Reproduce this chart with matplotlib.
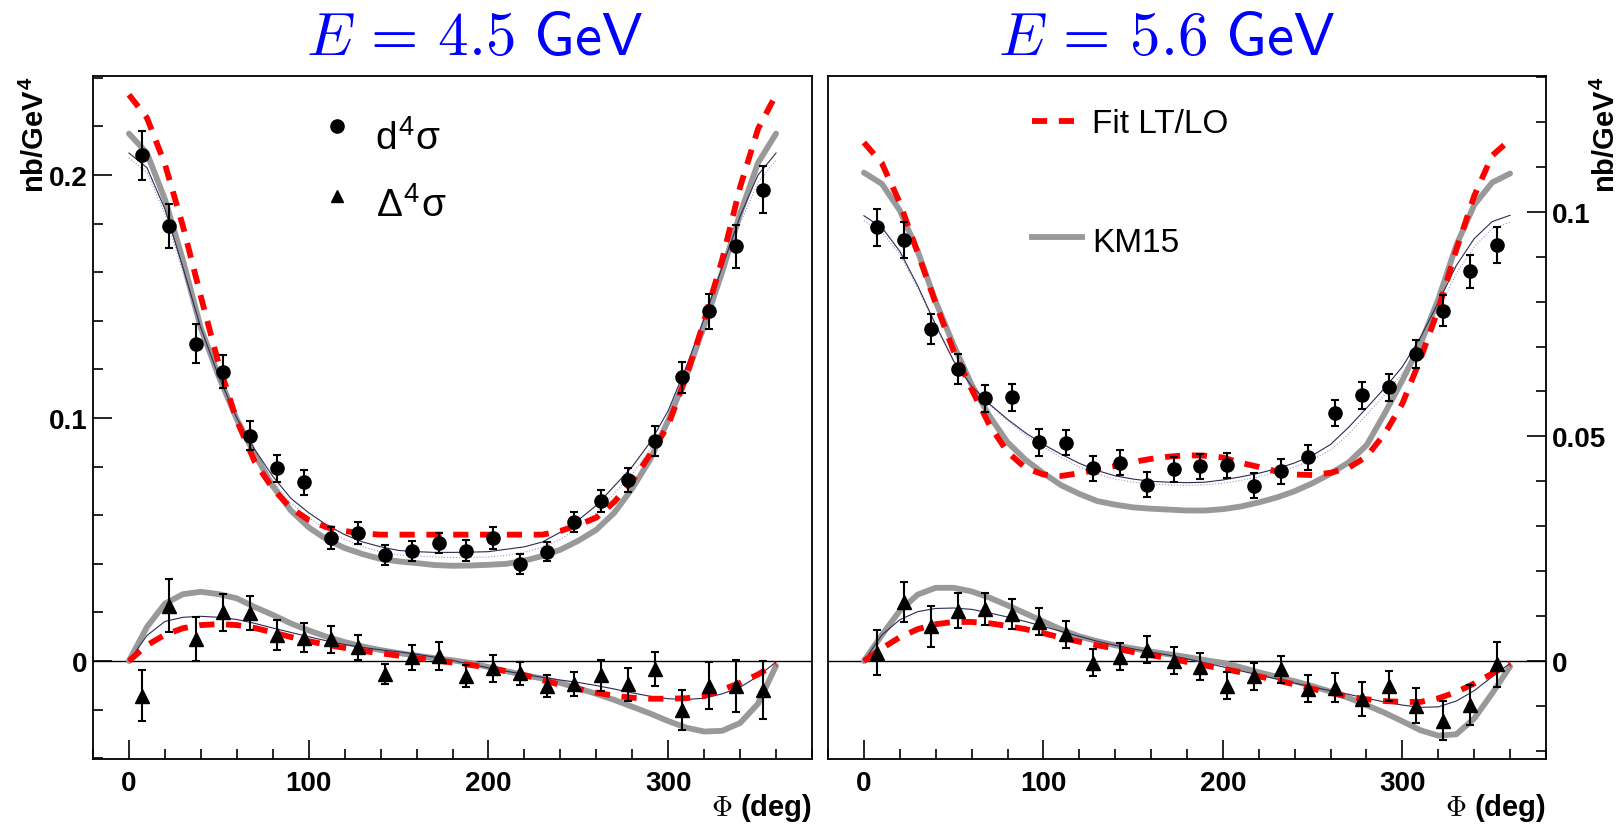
import numpy as np
import matplotlib
matplotlib.use("Agg")
import matplotlib.pyplot as plt
from matplotlib.ticker import MultipleLocator

plt.rcParams['mathtext.fontset'] = 'cm'
SANS = ['Liberation Sans', 'DejaVu Sans']

# ---------------- data ----------------
# bin centres of the measured points (deg)
phi_pts = [7.5, 22.5, 37.5, 52.5, 67.5, 82.5, 97.5, 112.5, 127.5, 142.5, 157.5, 172.5,
           187.5, 202.5, 217.5, 232.5, 247.5, 262.5, 277.5, 292.5, 307.5, 322.5, 337.5, 352.5]
# grid of the model curves (deg)
phi_curve = list(range(0, 361, 10))

# E = 4.5 GeV
xs45 = [0.208, 0.179, 0.1305, 0.119, 0.0927, 0.0793, 0.0735, 0.0505, 0.0527, 0.0436, 0.0452, 0.0486,
        0.0454, 0.0505, 0.0399, 0.045, 0.0571, 0.0658, 0.0746, 0.0905, 0.1167, 0.1439, 0.1707, 0.194]
xs45_err = [0.0100, 0.0090, 0.0080, 0.0068, 0.0060, 0.0055, 0.0050, 0.0045, 0.0045, 0.0042, 0.0040, 0.0042,
            0.0042, 0.0045, 0.0040, 0.0040, 0.0042, 0.0045, 0.0050, 0.0060, 0.0065, 0.0072, 0.0088, 0.0098]
dxs45 = [-0.0143, 0.0228, 0.009, 0.020, 0.0198, 0.0107, 0.0096, 0.009, 0.0056, -0.0053, 0.0015, 0.0022,
         -0.006, -0.003, -0.005, -0.0102, -0.0095, -0.0058, -0.0095, -0.0033, -0.020, -0.0101, -0.0101, -0.0118]
dxs45_err = [0.0105, 0.0110, 0.0090, 0.0076, 0.0070, 0.0063, 0.0060, 0.0056, 0.0050, 0.0040, 0.0050, 0.0058,
             0.0045, 0.0055, 0.0048, 0.0045, 0.0048, 0.0064, 0.0068, 0.0069, 0.0082, 0.0098, 0.0107, 0.0120]

fit45 = [0.233, 0.2235, 0.2045, 0.179, 0.150, 0.122, 0.099, 0.082, 0.071, 0.063, 0.058, 0.055, 0.0535,
         0.0525, 0.052, 0.052, 0.052, 0.052, 0.052, 0.052, 0.052, 0.052, 0.052, 0.052, 0.0535,
         0.056, 0.059, 0.0655, 0.074, 0.085, 0.097, 0.117, 0.140, 0.165, 0.195, 0.219, 0.233]
km45 = [0.217, 0.209, 0.190, 0.165, 0.137, 0.117, 0.0995, 0.085, 0.072, 0.062, 0.055, 0.050, 0.0465,
        0.044, 0.042, 0.041, 0.0403, 0.0395, 0.0392, 0.0393, 0.0396, 0.040, 0.0413, 0.0432, 0.0458,
        0.0495, 0.054, 0.061, 0.071, 0.083, 0.099, 0.117, 0.138, 0.160, 0.184, 0.205, 0.217]
thin45 = [0.209, 0.203, 0.186, 0.162, 0.137, 0.117, 0.100, 0.087, 0.076, 0.067, 0.061, 0.056, 0.052,
          0.049, 0.047, 0.0455, 0.045, 0.0447, 0.0447, 0.0448, 0.045, 0.046, 0.047, 0.049, 0.053,
          0.058, 0.064, 0.072, 0.080, 0.090, 0.103, 0.121, 0.141, 0.162, 0.183, 0.200, 0.209]
light45 = [0.207, 0.201, 0.184, 0.160, 0.135, 0.115, 0.098, 0.085, 0.074, 0.065, 0.059, 0.054, 0.050,
           0.047, 0.045, 0.0437, 0.0432, 0.0428, 0.0426, 0.0426, 0.0428, 0.0435, 0.0448, 0.0468, 0.050,
           0.055, 0.061, 0.069, 0.077, 0.087, 0.100, 0.118, 0.138, 0.159, 0.180, 0.197, 0.206]
dfit45 = [0.0, 0.0065, 0.0108, 0.0135, 0.0148, 0.0152, 0.0148, 0.0136, 0.0118, 0.0099, 0.0082, 0.0067,
          0.0054, 0.0042, 0.0032, 0.0022, 0.0012, 0.0003, -0.0006, -0.0016, -0.0028, -0.0042, -0.0058,
          -0.0078, -0.0098, -0.0115, -0.013, -0.0143, -0.0151, -0.0155, -0.0155, -0.0153, -0.0144,
          -0.0118, -0.0090, -0.0055, -0.0012]
dkm45 = [0.0, 0.0140, 0.0236, 0.0275, 0.0285, 0.0275, 0.0258, 0.0222, 0.019, 0.0155, 0.0126, 0.0100,
         0.0078, 0.006, 0.0045, 0.0033, 0.0022, 0.0012, 0.0003, -0.0008, -0.0025, -0.0042, -0.0058,
         -0.0072, -0.0090, -0.0112, -0.0135, -0.016, -0.0188, -0.0216, -0.0247, -0.0274, -0.0290,
         -0.0287, -0.0255, -0.0175, -0.002]
dthin45 = [0.0, 0.0105, 0.0163, 0.0180, 0.0184, 0.0180, 0.0171, 0.0155, 0.0136, 0.0118, 0.0100, 0.0083,
           0.0068, 0.0056, 0.0046, 0.0038, 0.0028, 0.0016, 0.0002, -0.0013, -0.0028, -0.0042, -0.0055,
           -0.0067, -0.0078, -0.0088, -0.0101, -0.0115, -0.0131, -0.0145, -0.0155, -0.0158, -0.0153,
           -0.0135, -0.0108, -0.0062, -0.0004]

# E = 5.6 GeV
xs56 = [0.0965, 0.0937, 0.0739, 0.065, 0.0585, 0.0587, 0.0487, 0.0486, 0.0429, 0.0441, 0.0392, 0.0427,
        0.0433, 0.0436, 0.039, 0.0422, 0.0453, 0.0552, 0.0592, 0.0609, 0.0683, 0.078, 0.0867, 0.0926]
xs56_err = [0.0042, 0.0040, 0.0033, 0.0033, 0.0030, 0.0030, 0.0030, 0.0028, 0.0028, 0.0028, 0.0028, 0.0028,
            0.0028, 0.0028, 0.0028, 0.0028, 0.0028, 0.0030, 0.0030, 0.0030, 0.0031, 0.0035, 0.0037, 0.0040]
dxs56 = [0.0019, 0.0132, 0.0077, 0.0112, 0.0116, 0.0105, 0.0088, 0.006, -0.0004, 0.001, 0.0025, 0.0001,
         -0.0013, -0.0055, -0.0034, -0.0018, -0.0062, -0.0059, -0.0085, -0.0055, -0.0099, -0.0133, -0.0098, -0.0007]
dxs56_err = [0.0050, 0.0045, 0.0046, 0.0039, 0.0036, 0.0033, 0.0031, 0.0030, 0.0030, 0.0030, 0.0030, 0.0030,
             0.0030, 0.0030, 0.0030, 0.0030, 0.0030, 0.0033, 0.0038, 0.0033, 0.0038, 0.0043, 0.0045, 0.0050]

fit56 = [0.1154, 0.1108, 0.1020, 0.0908, 0.0796, 0.0690, 0.0605, 0.0525, 0.0465, 0.0430, 0.0415, 0.0412,
         0.0418, 0.0426, 0.0434, 0.0443, 0.0450, 0.0455, 0.0458, 0.0457, 0.0453, 0.0441, 0.0432, 0.0422,
         0.0415, 0.0414, 0.0419, 0.0430, 0.0455, 0.0505, 0.0573, 0.0672, 0.0783, 0.0915, 0.1035, 0.1125, 0.1160]
km56 = [0.1087, 0.1062, 0.1003, 0.0912, 0.0800, 0.0703, 0.0615, 0.0545, 0.0487, 0.0448, 0.0418, 0.0391,
        0.0372, 0.0356, 0.0348, 0.0342, 0.0339, 0.0337, 0.0335, 0.0335, 0.0338, 0.0344, 0.0353, 0.0364,
        0.0378, 0.0396, 0.0417, 0.0442, 0.0480, 0.0550, 0.0625, 0.0705, 0.0805, 0.0925, 0.1015, 0.1065, 0.1085]
thin56 = [0.0991, 0.0965, 0.0912, 0.0835, 0.0748, 0.0668, 0.0612, 0.0572, 0.0538, 0.0508, 0.0482, 0.0460,
          0.0440, 0.0424, 0.0412, 0.0405, 0.0400, 0.0398, 0.0397, 0.0398, 0.0403, 0.0410, 0.0418, 0.0428,
          0.0441, 0.0458, 0.0482, 0.0520, 0.0563, 0.0607, 0.0655, 0.0720, 0.0798, 0.0880, 0.0940, 0.0978, 0.0992]
light56 = [0.0980, 0.0955, 0.0905, 0.0830, 0.0745, 0.0668, 0.0612, 0.0570, 0.0535, 0.0503, 0.0476, 0.0453,
           0.0432, 0.0416, 0.0405, 0.0398, 0.0394, 0.0392, 0.0391, 0.0392, 0.0396, 0.0402, 0.0410, 0.0420,
           0.0432, 0.0448, 0.0470, 0.0505, 0.0548, 0.0592, 0.0640, 0.0705, 0.0782, 0.0862, 0.0922, 0.0962, 0.0977]
dfit56 = [0.0, 0.0028, 0.0053, 0.0071, 0.0082, 0.0087, 0.0087, 0.0084, 0.0078, 0.0071, 0.0062, 0.0052,
          0.0043, 0.0035, 0.0028, 0.0020, 0.0013, 0.0006, -0.0002, -0.0010, -0.0017, -0.0025, -0.0034,
          -0.0043, -0.0052, -0.0062, -0.0071, -0.0079, -0.0085, -0.0089, -0.0091, -0.0091, -0.0083,
          -0.0069, -0.0050, -0.0028, -0.0006]
dkm56 = [0.0, 0.0058, 0.0112, 0.0148, 0.0163, 0.0163, 0.0155, 0.0141, 0.0124, 0.0106, 0.0088, 0.0070,
         0.0055, 0.0044, 0.0035, 0.0028, 0.0021, 0.0015, 0.0009, 0.0002, -0.0004, -0.0014, -0.0025,
         -0.0035, -0.0045, -0.0056, -0.0068, -0.0082, -0.0098, -0.0115, -0.0134, -0.0154, -0.0166,
         -0.0163, -0.0128, -0.0072, -0.0012]
dthin56 = [0.0, 0.0058, 0.0092, 0.0110, 0.0117, 0.0118, 0.0115, 0.0107, 0.0098, 0.0088, 0.0077, 0.0066,
           0.0055, 0.0044, 0.0035, 0.0027, 0.0020, 0.0013, 0.0005, -0.0004, -0.0013, -0.0022, -0.0031,
           -0.0040, -0.0049, -0.0058, -0.0066, -0.0074, -0.0083, -0.0091, -0.0098, -0.0103, -0.0102,
           -0.0089, -0.0066, -0.0035, -0.0005]

RED = '#ff0000'
GREY = '#999999'
NAVY = '#2b2b55'
LIGHT = '#9a9ac0'

fig = plt.figure(figsize=(16.21, 8.28), dpi=100)
ax1 = fig.add_axes([93/1621, 1-760/828, 719/1621, 683/828])
ax2 = fig.add_axes([828/1621, 1-760/828, 718/1621, 683/828])


def draw_panel(ax, xs, xs_err, dxs, dxs_err, fit, km, thin, light, dfit, dkm, dthin):
    ax.axhline(0, color='k', lw=1.0, zorder=1)
    ax.plot(phi_curve, km, color=GREY, lw=4.2, solid_capstyle='round',
            solid_joinstyle='round', zorder=2)
    ax.plot(phi_curve, dkm, color=GREY, lw=4.2, solid_capstyle='round',
            solid_joinstyle='round', zorder=2)
    ax.plot(phi_curve, light, color=LIGHT, lw=0.8, ls=':', zorder=3)
    ax.plot(phi_curve, thin, color=NAVY, lw=0.8, zorder=3)
    ax.plot(phi_curve, dthin, color=NAVY, lw=0.8, zorder=3)
    ax.plot(phi_curve, fit, color=RED, lw=4.2, dashes=(2.6, 2.0), zorder=4)
    ax.plot(phi_curve, dfit, color=RED, lw=4.2, dashes=(2.6, 2.0), zorder=4)
    ax.errorbar(phi_pts, xs, yerr=xs_err, fmt='o', color='k', ms=9.5, elinewidth=1.5,
                capsize=3, capthick=1.5, zorder=5)
    ax.errorbar(phi_pts, dxs, yerr=dxs_err, fmt='^', color='k', ms=10, elinewidth=1.5,
                capsize=3, capthick=1.5, zorder=5)
    ax.set_xlim(-20, 380)
    ax.xaxis.set_major_locator(MultipleLocator(100))
    ax.xaxis.set_minor_locator(MultipleLocator(20))
    for s in ax.spines.values():
        s.set_linewidth(1.3)
    ax.tick_params(which='both', direction='in', width=1.2, labelsize=20)
    ax.tick_params(which='major', length=14)
    ax.tick_params(which='minor', length=7)
    ax.tick_params(axis='x', which='both', top=False, pad=8)


draw_panel(ax1, xs45, xs45_err, dxs45, dxs45_err, fit45, km45, thin45, light45, dfit45, dkm45, dthin45)
draw_panel(ax2, xs56, xs56_err, dxs56, dxs56_err, fit56, km56, thin56, light56, dfit56, dkm56, dthin56)

ax1.set_ylim(-0.0403, 0.2407)
ax1.set_yticks([0, 0.1, 0.2])
ax1.set_yticklabels(['0', '0.1', '0.2'])
ax1.yaxis.set_minor_locator(MultipleLocator(0.02))
ax1.tick_params(axis='y', which='both', left=True, right=False, pad=4)

ax2.set_ylim(-0.0218, 0.1302)
ax2.yaxis.tick_right()
ax2.set_yticks([0, 0.05, 0.1])
ax2.set_yticklabels(['0', '0.05', '0.1'])
ax2.yaxis.set_minor_locator(MultipleLocator(0.01))
ax2.tick_params(axis='y', which='both', left=False, right=True, pad=4)

for ax in (ax1, ax2):
    for lab in ax.get_xticklabels() + ax.get_yticklabels():
        lab.set_fontweight('bold')
        lab.set_family(SANS)
        lab.set_fontsize(20)

# axis titles
for xc in (35, 1606):
    fig.text(xc/1621, 1-77/828, r'nb/GeV$^{\mathregular{4}}$', rotation=90, ha='center', va='top',
             fontsize=21, fontweight='bold', family=SANS)
for xr in (812, 1546):
    fig.text(xr/1621, 1-816/828, r'$\Phi$ (deg)', ha='right', va='baseline',
             fontsize=21, fontweight='bold', family=SANS)

# panel titles
fig.text(475/1621, 1-55/828, r'$E\,=\,4.5\ \mathsf{GeV}$', color='#0000ff',
         ha='center', va='baseline', fontsize=44)
fig.text(1167/1621, 1-55/828, r'$E\,=\,5.6\ \mathsf{GeV}$', color='#0000ff',
         ha='center', va='baseline', fontsize=44)

# legend, left panel
ax1.plot([0.339], [0.927], 'o', color='k', ms=9.5, transform=ax1.transAxes, clip_on=False)
ax1.text(0.392, 0.893, r'd$^{\mathregular{4}}$σ', transform=ax1.transAxes, fontsize=28,
         family=SANS, va='baseline')
ax1.plot([0.339], [0.824], '^', color='k', ms=9, transform=ax1.transAxes, clip_on=False)
ax1.text(0.394, 0.795, r'Δ$^{\mathregular{4}}$σ', transform=ax1.transAxes, fontsize=28,
         family=SANS, va='baseline')

# legend, right panel
lx0, lx1 = (1032-828)/718, (1080-828)/718
ax2.plot([lx0, lx1], [1-(122-77)/683]*2, color=RED, lw=4.2, dashes=(2.6, 2.0),
         transform=ax2.transAxes)
ax2.text((1092-828)/718, 1-(133-77)/683, 'Fit LT/LO', transform=ax2.transAxes,
         fontsize=24, family=SANS, va='baseline')
ax2.plot([lx0, (1082-828)/718], [1-(238-77)/683]*2, color=GREY, lw=4.2,
         transform=ax2.transAxes)
ax2.text((1092-828)/718, 1-(252-77)/683, 'KM15', transform=ax2.transAxes,
         fontsize=24, family=SANS, va='baseline')

fig.savefig('out.png', dpi=100)
